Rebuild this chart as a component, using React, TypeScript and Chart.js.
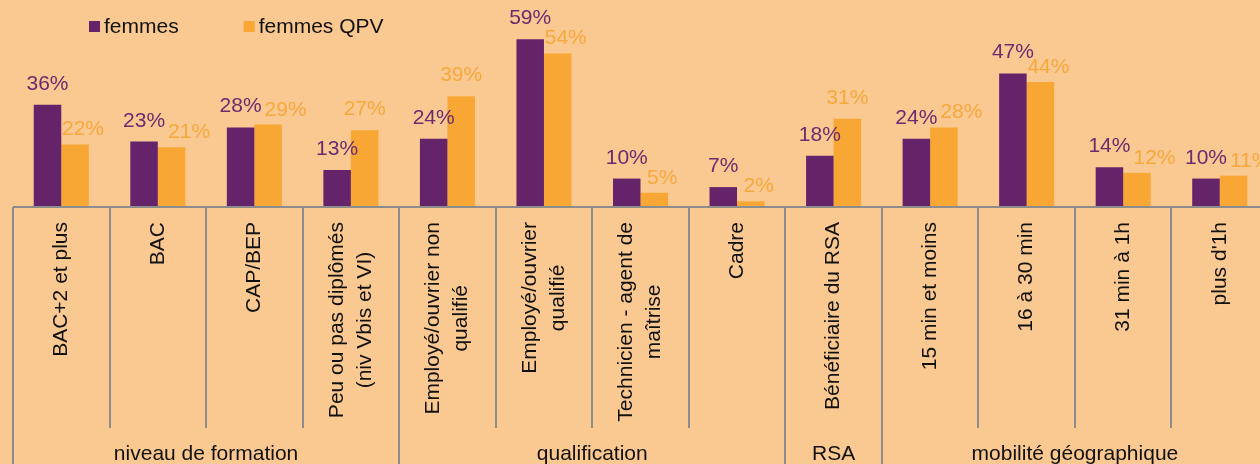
import React, { useEffect, useRef } from "react";
import { Chart, registerables } from "chart.js";

Chart.register(...registerables);

const categories: string[][] = [
  ["BAC+2 et plus"],
  ["BAC"],
  ["CAP/BEP"],
  ["Peu ou pas diplômés", "(niv Vbis et VI)"],
  ["Employé/ouvrier non", "qualifié"],
  ["Employé/ouvrier", "qualifié"],
  ["Technicien - agent de", "maîtrise"],
  ["Cadre"],
  ["Bénéficiaire du RSA"],
  ["15 min et moins"],
  ["16 à 30 min"],
  ["31 min à 1h"],
  ["plus d'1h"],
];
const groupLabels = ["niveau de formation", "qualification", "RSA", "mobilité géographique"];
const groupSizes = [4, 4, 1, 4];
const seriesNames = ["femmes", "femmes QPV"];
const femmes = [36, 23, 28, 13, 24, 59, 10, 7, 18, 24, 47, 14, 10];
const femmesQPV = [22, 21, 29, 27, 39, 54, 5, 2, 31, 28, 44, 12, 11];

const BG = "#FAC891";
const PURPLE = "#65236A";
const ORANGE = "#F8A735";
const PURPLE_TXT = "#6A2C6F";
const ORANGE_TXT = "#F6A83C";
const AXIS = "#8C8C8C";
const FONT = "21px 'Liberation Sans', Arial, sans-serif";

const decor = {
  id: "decor",
  beforeDraw(chart: any) {
    const ctx = chart.ctx;
    ctx.save();
    ctx.fillStyle = BG;
    ctx.fillRect(0, 0, chart.width, chart.height);
    ctx.restore();
  },
  afterDraw(chart: any) {
    const { ctx, chartArea } = chart;
    const xs = chart.scales.x;
    const axisY = chartArea.bottom;
    const bottom = chart.height;
    const n = categories.length;

    const line = (x1: number, y1: number, x2: number, y2: number) => {
      ctx.beginPath();
      ctx.moveTo(x1, y1);
      ctx.lineTo(x2, y2);
      ctx.stroke();
    };

    ctx.save();
    ctx.strokeStyle = AXIS;
    ctx.lineWidth = 2;
    line(chartArea.left, axisY, chartArea.right, axisY);

    const groupStarts = new Set<number>();
    let acc = 0;
    groupStarts.add(0);
    groupSizes.forEach((s) => {
      acc += s;
      groupStarts.add(acc);
    });
    for (let i = 0; i <= n; i++) {
      const px = Math.round(xs.getPixelForValue(i - 0.5));
      line(px, axisY, px, groupStarts.has(i) ? bottom : axisY + 221);
    }

    // category labels
    ctx.font = FONT;
    ctx.fillStyle = "#111";
    categories.forEach((lines, i) => {
      const cx = xs.getPixelForValue(i);
      const maxW = Math.max(...lines.map((l) => ctx.measureText(l).width));
      lines.forEach((l, j) => {
        ctx.save();
        const lx = cx + (j - (lines.length - 1) / 2) * 28;
        ctx.translate(lx, axisY + 15 + maxW / 2);
        ctx.rotate(-Math.PI / 2);
        ctx.textAlign = "center";
        ctx.textBaseline = "middle";
        ctx.fillText(l, 0, 0);
        ctx.restore();
      });
    });

    // group labels
    let start = 0;
    ctx.textAlign = "center";
    ctx.textBaseline = "alphabetic";
    groupLabels.forEach((g, k) => {
      const a = xs.getPixelForValue(start - 0.5);
      const b = xs.getPixelForValue(start + groupSizes[k] - 0.5);
      ctx.fillText(g, (a + b) / 2, 460);
      start += groupSizes[k];
    });

    // value labels (orange label nudged away from the purple one when they collide)
    const m0 = chart.getDatasetMeta(0).data;
    const m1 = chart.getDatasetMeta(1).data;
    for (let i = 0; i < n; i++) {
      const p = femmes[i];
      const q = femmesQPV[i];
      const b0 = m0[i];
      const b1 = m1[i];
      const pText = p + "%";
      const qText = q + "%";
      const pY = b0.y - 15;
      ctx.fillStyle = PURPLE_TXT;
      ctx.fillText(pText, b0.x, pY);
      const pRight = b0.x + ctx.measureText(pText).width / 2;
      const qW = ctx.measureText(qText).width;
      ctx.fillStyle = ORANGE_TXT;
      if (q <= p + 5) {
        const qY = b1.y - 9;
        let qx = b1.x + 8;
        if (Math.abs(qY - pY) < 14) qx = Math.max(qx, pRight + 3 + qW / 2);
        ctx.fillText(qText, qx, qY);
      } else {
        ctx.fillText(qText, b1.x, b1.y - 15);
      }
    }

    // legend
    let lx = 89;
    const colors = [PURPLE, ORANGE];
    ctx.textAlign = "left";
    ctx.textBaseline = "middle";
    seriesNames.forEach((name, k) => {
      ctx.fillStyle = colors[k];
      ctx.fillRect(lx, 21, 11, 11);
      ctx.fillStyle = "#111";
      ctx.fillText(name, lx + 15, 27);
      lx += 15 + ctx.measureText(name).width + 65;
    });
    ctx.restore();
  },
};

export default function App() {
  const ref = useRef<HTMLCanvasElement | null>(null);
  useEffect(() => {
    if (!ref.current) return;
    const chart = new Chart(ref.current, {
      type: "bar",
      data: {
        labels: categories.map((c) => c.join(" ")),
        datasets: [
          {
            label: seriesNames[0],
            data: femmes,
            backgroundColor: PURPLE,
            categoryPercentage: 0.57,
            barPercentage: 1.0,
          },
          {
            label: seriesNames[1],
            data: femmesQPV,
            backgroundColor: ORANGE,
            categoryPercentage: 0.57,
            barPercentage: 1.0,
          },
        ],
      },
      options: {
        responsive: false,
        animation: false,
        devicePixelRatio: 1,
        layout: { padding: { left: 13, right: 0, top: 8, bottom: 257 } },
        plugins: { legend: { display: false }, tooltip: { enabled: false } },
        scales: {
          x: { display: false, offset: true, grid: { display: false } },
          y: { display: false, min: 0, max: 70 },
        },
      },
      plugins: [decor],
    });
    return () => chart.destroy();
  }, []);
  return (
    <div
      style={{
        position: "fixed",
        left: 0,
        top: 0,
        width: 1260,
        height: 464,
        overflow: "hidden",
        background: BG,
      }}
    >
      <canvas ref={ref} width={1268} height={464} style={{ display: "block" }} />
    </div>
  );
}
